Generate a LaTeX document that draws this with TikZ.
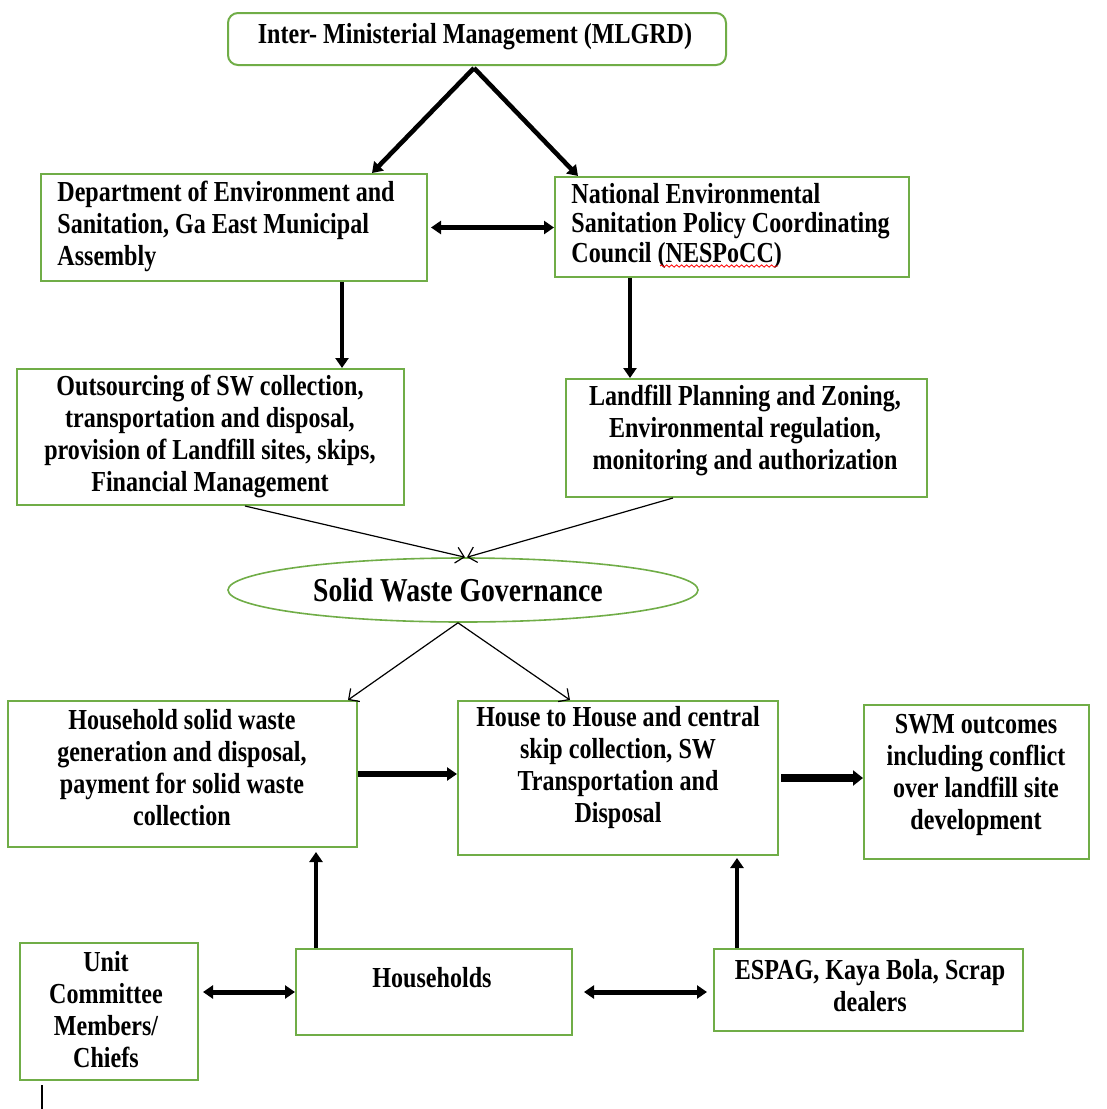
\documentclass[tikz,border=0pt]{standalone}
\usepackage{fontspec}
\newfontfamily\lbs{Liberation Serif}[FakeStretch=0.83]
\usetikzlibrary{arrows.meta,fit,shapes.geometric,decorations.pathmorphing}
\definecolor{boxgreen}{RGB}{112,173,71}
\begin{document}
\begin{tikzpicture}[x=0.5pt,y=-0.5pt,
  box/.style={draw=boxgreen, line width=1pt, inner sep=0pt},
  txt/.style={font=\lbs\bfseries\fontsize{14.5}{16}\selectfont, align=center, inner sep=0pt},
  bigarrow/.style={line width=2.3pt, -{Triangle[length=5pt,width=6.5pt]}},
  bigboth/.style={line width=2.5pt, {Triangle[length=5pt,width=6.5pt]}-{Triangle[length=5pt,width=6.5pt]}},
  fatarrow/.style={line width=3.6pt, -{Triangle[length=5pt,width=7.5pt]}},
  thinarrow/.style={line width=0.6pt, -{Straight Barb[length=4pt,width=8pt]}}]
\useasboundingbox (0,0) rectangle (1107,1109);
\fill[white] (0,0) rectangle (1107,1109);

% boxes
\node[box, rounded corners=5pt, fit={(228,13) (726,65)}] (top) {};
\node[box, fit={(41,174) (427,281)}] (dept) {};
\node[box, fit={(555,177) (909,277)}] (nes) {};
\node[box, fit={(17,369) (404,505)}] (out) {};
\node[box, fit={(566,379) (927,497)}] (land) {};
\node[ellipse, draw=boxgreen, line width=0.8pt, minimum width=235pt, minimum height=32pt, inner sep=0pt] (swg) at (463,590) {};
\node[box, fit={(8,701) (357,847)}] (hh) {};
\node[box, fit={(458,701) (778,855)}] (hth) {};
\node[box, fit={(864,705) (1089,859)}] (swm) {};
\node[box, fit={(20,943) (198,1080)}] (unit) {};
\node[box, fit={(296,949) (572,1035)}] (hsh) {};
\node[box, fit={(714,949) (1023,1031)}] (esp) {};

% texts
\node[txt] (ttop) at (475,37) {Inter- Ministerial Management (MLGRD)};
\node[txt, anchor=west, align=left] (tdept) at (57,226) {Department of Environment and\\Sanitation, Ga East Municipal\\Assembly};
\node[txt, anchor=west, align=left, font=\lbs\bfseries\fontsize{14.5}{14.8}\selectfont] (tnes) at (571,226) {National Environmental\\Sanitation Policy Coordinating\\Council (NESPoCC)};
\node[txt] (tout) at (210,436) {Outsourcing of SW collection,\\transportation and disposal,\\provision of Landfill sites, skips,\\Financial Management};
\node[txt] (tland) at (745,430) {Landfill Planning and Zoning,\\Environmental regulation,\\monitoring and authorization};
\node[txt, font=\lbs\bfseries\fontsize{16.7}{18}\selectfont] (tswg) at (458,590) {Solid Waste Governance};
\node[txt] (thh) at (182,768) {Household solid waste\\generation and disposal,\\payment for solid waste\\collection};
\node[txt] (thth) at (618,768) {House to House and central\\skip collection, SW\\Transportation and\\Disposal};
\node[txt] (tswm) at (976,775) {SWM outcomes\\including conflict\\over landfill site\\development};
\node[txt] (tunit) at (106,1010) {Unit\\Committee\\Members/\\Chiefs};
\node[txt] (thsh) at (432,978) {Households};
\node[txt] (tesp) at (870,986) {ESPAG, Kaya Bola, Scrap\\dealers};

% spell-check underline and cursor mark
\draw[red, line width=0.4pt, decorate, decoration={snake, amplitude=0.6pt, segment length=2.5pt}] (660,266) -- (778,266);
\draw[line width=0.6pt] (42,1085) -- (42,1109);

% connectors
\coordinate (apex) at (474,68);
\draw[bigarrow] (apex) -- (dept.north -| 372,0);
\draw[bigarrow] (apex) -- (nes.north -| 578,0);
\draw[bigboth, shorten <=1.5pt] (dept.east) -- (dept.east -| nes.west);
\draw[bigarrow] (dept.south -| 342,0) -- (out.north -| 342,0);
\draw[bigarrow] (nes.south -| 630,0) -- (land.north -| 630,0);
\draw[thinarrow] (out.south -| 245,0) -- ([xshift=1pt]swg.north);
\draw[thinarrow] (land.south -| 673,0) -- ([xshift=2pt]swg.north);
\draw[thinarrow] ([xshift=-2.5pt]swg.south) -- (hh.north -| 348,0);
\draw[thinarrow] ([xshift=-2.5pt]swg.south) -- (hth.north -| 570,0);
\draw[bigarrow, line width=2.6pt] (hh.east) -- (hh.east -| hth.west);
\draw[fatarrow] ([xshift=1pt]hth.east) -- (hth.east -| swm.west);
\draw[bigarrow] (hsh.north -| 316,0) -- ([yshift=-2pt]hh.south -| 316,0);
\draw[bigarrow] (esp.north -| 737,0) -- ([yshift=-1pt]hth.south -| 737,0);
\draw[bigboth, shorten <=2pt] (unit.east |- hsh.west) -- (hsh.west);
\draw[bigboth, shorten <=5.5pt, shorten >=3pt] (hsh.east) -- (hsh.east -| esp.west);
\end{tikzpicture}
\end{document}
